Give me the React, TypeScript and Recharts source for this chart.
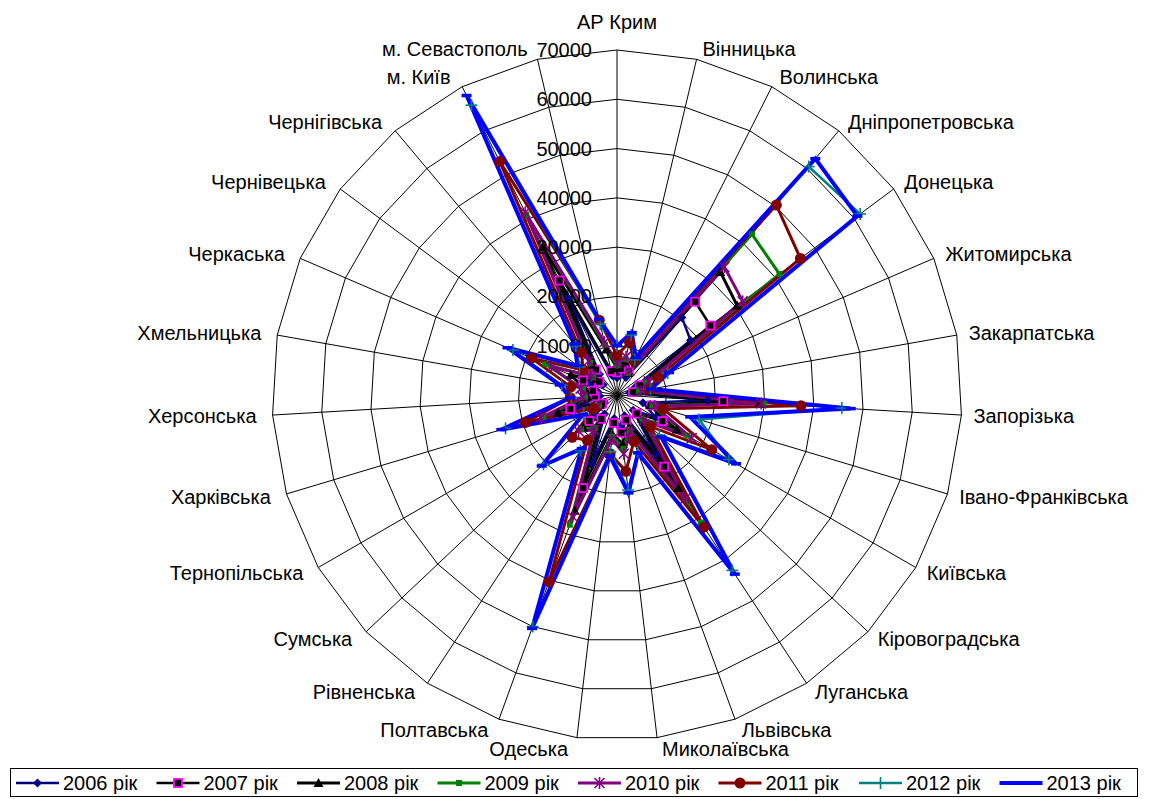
import React from 'react';
import { RadarChart, Radar, PolarGrid, PolarAngleAxis, PolarRadiusAxis, Legend } from 'recharts';

const regions = [
  'АР Крим', 'Вінницька', 'Волинська', 'Дніпропетровська', 'Донецька', 'Житомирська',
  'Закарпатська', 'Запорізька', 'Івано-Франківська', 'Київська', 'Кіровоградська',
  'Луганська', 'Львівська', 'Миколаївська', 'Одеська', 'Полтавська', 'Рівненська',
  'Сумська', 'Тернопільська', 'Харківська', 'Херсонська', 'Хмельницька', 'Черкаська',
  'Чернівецька', 'Чернігівська', 'м. Київ', 'м. Севастополь',
];

const v2006 = [3500, 4500, 4000, 20500, 18600, 4000, 2600, 18400, 5500, 9000, 4500, 14500, 4500, 6500, 4800, 14900, 4600, 6000, 3000, 8500, 3500, 4000, 6000, 3500, 5500, 22000, 4000];
const v2007 = [4600, 5500, 5300, 24700, 23600, 5000, 3300, 21600, 7300, 10600, 5500, 17400, 5400, 7700, 5700, 20100, 5800, 7700, 3500, 9900, 4500, 5000, 7500, 4500, 6700, 26000, 5000];
const v2008 = [5500, 7000, 5000, 32600, 30400, 6500, 4200, 29000, 7000, 14000, 7000, 22600, 7000, 10000, 8000, 25000, 7500, 9500, 4000, 12500, 6000, 6500, 10200, 5500, 8000, 33600, 9500];
const v2009 = [6000, 7500, 5000, 42600, 41100, 6500, 4500, 29800, 7500, 16500, 7000, 31000, 7500, 11000, 8500, 28000, 8000, 10000, 4200, 15600, 6500, 7000, 15800, 6000, 8500, 41000, 10500];
const v2010 = [6500, 8000, 5500, 33900, 31800, 7000, 5000, 29300, 8000, 17500, 7500, 25200, 8000, 12000, 9000, 26300, 8500, 10700, 4500, 16200, 7000, 7500, 14500, 6500, 9000, 41500, 11000];
const v2011 = [8100, 11000, 7700, 50300, 46400, 9000, 6700, 37400, 9800, 22200, 9300, 32100, 10000, 15600, 12000, 40300, 11000, 12500, 5500, 19400, 9500, 9500, 18900, 8500, 11300, 53000, 15600];
const v2012 = [10000, 12500, 8000, 60500, 61500, 11200, 6900, 45700, 17400, 26200, 11800, 42600, 12300, 19400, 11600, 50000, 13500, 20500, 7800, 23600, 9300, 11400, 23000, 9500, 13000, 65800, 14800];
const v2013 = [10000, 13000, 8500, 62600, 60800, 11500, 7000, 47500, 15500, 27900, 12400, 43500, 12500, 20000, 12500, 50400, 13000, 21000, 8000, 24500, 9500, 11800, 24200, 10000, 13500, 68000, 15800];

const radiusTicks = [0, 10000, 20000, 30000, 40000, 50000, 60000, 70000];

const data = regions.map((name, i) => ({
  name,
  y2006: v2006[i], y2007: v2007[i], y2008: v2008[i], y2009: v2009[i],
  y2010: v2010[i], y2011: v2011[i], y2012: v2012[i], y2013: v2013[i],
}));

const FONT = '"Liberation Sans", Arial, sans-serif';

type Kind = 'diamond' | 'square' | 'triangle' | 'small' | 'asterisk' | 'circle' | 'plus' | 'dash';

const series: { key: string; label: string; color: string; width: number; kind: Kind }[] = [
  { key: 'y2006', label: '2006 рік', color: '#000080', width: 2.5, kind: 'diamond' },
  { key: 'y2007', label: '2007 рік', color: '#000000', width: 2.5, kind: 'square' },
  { key: 'y2008', label: '2008 рік', color: '#000000', width: 3, kind: 'triangle' },
  { key: 'y2009', label: '2009 рік', color: '#008000', width: 3, kind: 'small' },
  { key: 'y2010', label: '2010 рік', color: '#800080', width: 3, kind: 'asterisk' },
  { key: 'y2011', label: '2011 рік', color: '#800000', width: 3, kind: 'circle' },
  { key: 'y2012', label: '2012 рік', color: '#008080', width: 2.5, kind: 'plus' },
  { key: 'y2013', label: '2013 рік', color: '#0000FF', width: 4, kind: 'dash' },
];

function Marker({ kind, x, y }: { kind: Kind; x: number; y: number }) {
  switch (kind) {
    case 'diamond':
      return <path d={`M${x},${y - 4.5}L${x + 4.5},${y}L${x},${y + 4.5}L${x - 4.5},${y}Z`} fill="#000080" />;
    case 'square':
      return <rect x={x - 4} y={y - 4} width={8} height={8} fill="#000" stroke="#FF00FF" strokeWidth={1.8} />;
    case 'triangle':
      return <path d={`M${x},${y - 5}L${x + 5},${y + 4}L${x - 5},${y + 4}Z`} fill="#000" />;
    case 'small':
      return <rect x={x - 3} y={y - 3} width={6} height={6} fill="#008000" />;
    case 'asterisk':
      return (
        <g stroke="#800080" strokeWidth={1.6}>
          <line x1={x - 5} y1={y - 5} x2={x + 5} y2={y + 5} />
          <line x1={x - 5} y1={y + 5} x2={x + 5} y2={y - 5} />
          <line x1={x} y1={y - 6} x2={x} y2={y + 6} />
        </g>
      );
    case 'circle':
      return <circle cx={x} cy={y} r={5.5} fill="#800000" />;
    case 'plus':
      return (
        <g stroke="#008080" strokeWidth={1.6}>
          <line x1={x - 6} y1={y} x2={x + 6} y2={y} />
          <line x1={x} y1={y - 6} x2={x} y2={y + 6} />
        </g>
      );
    default:
      return <line x1={x - 5} y1={y} x2={x + 5} y2={y} stroke="#0000FF" strokeWidth={3.5} />;
  }
}

const makeDot = (kind: Kind, key: string) => (props: any) => (
  <g key={`${key}-${props.index}`}>
    <Marker kind={kind} x={props.cx} y={props.cy} />
  </g>
);

const AngleTick = (props: any) => {
  const { x, y, payload, textAnchor } = props;
  // push labels slightly further out vertically, like the original
  const lift = -3 * Math.sin(((payload.coordinate ?? 0) * Math.PI) / 180);
  let dx = 0;
  let dy = lift;
  let baseline = 'central';
  if (textAnchor === 'start') dx = 4;
  else if (textAnchor === 'end') dx = -8;
  else {
    dy = -13;
    baseline = 'auto';
  }
  return (
    <text x={x + dx} y={y + dy} textAnchor={textAnchor} dominantBaseline={baseline}
      fontFamily={FONT} fontSize={20} fill="#000">
      {payload.value}
    </text>
  );
};

const RadiusTick = (props: any) => {
  const { x, y, payload } = props;
  return (
    <text x={x - 25} y={y} textAnchor="end" dominantBaseline="central"
      fontFamily={FONT} fontSize={20} fill="#000">
      {payload.value}
    </text>
  );
};

const LegendBox = () => (
  <svg width={1128} height={29} style={{ display: 'block' }}>
    <rect x={0.5} y={0.5} width={1127} height={28} fill="#fff" stroke="#000" strokeWidth={1} />
    {series.map((s, i) => {
      const x0 = 6 + i * 140.5;
      return (
        <g key={s.key}>
          <line x1={x0} y1={15} x2={x0 + 43} y2={15} stroke={s.color} strokeWidth={s.width} />
          <Marker kind={s.kind} x={x0 + 21.5} y={15} />
          <text x={x0 + 47} y={15} dominantBaseline="central" fontFamily={FONT} fontSize={20} fill="#000">
            {s.label}
          </text>
        </g>
      );
    })}
  </svg>
);

export default function App() {
  return (
    <div style={{ position: 'absolute', left: 0, top: 0, width: 1156, height: 799, background: '#fff' }}>
      <RadarChart width={1156} height={799} data={data} cx={617} cy={395} outerRadius={345}
        startAngle={90} endAngle={-270} margin={{ top: 0, right: 0, bottom: 0, left: 0 }}>
        <PolarGrid gridType="polygon" stroke="#000" strokeWidth={1} />
        <PolarAngleAxis dataKey="name" tick={AngleTick} tickLine={false} axisLine={false} />
        <PolarRadiusAxis angle={90} domain={[0, 70000]} ticks={radiusTicks} tickCount={8}
          tick={RadiusTick} axisLine={false} tickLine={false} />
        {series.map((s) => (
          <Radar key={s.key} dataKey={s.key} name={s.label} stroke={s.color} strokeWidth={s.width}
            fill="none" fillOpacity={0} dot={makeDot(s.kind, s.key)} isAnimationActive={false} />
        ))}
        <Legend content={() => <LegendBox />}
          wrapperStyle={{ position: 'absolute', left: 10, top: 768, width: 1128, height: 29 }} />
      </RadarChart>
    </div>
  );
}
